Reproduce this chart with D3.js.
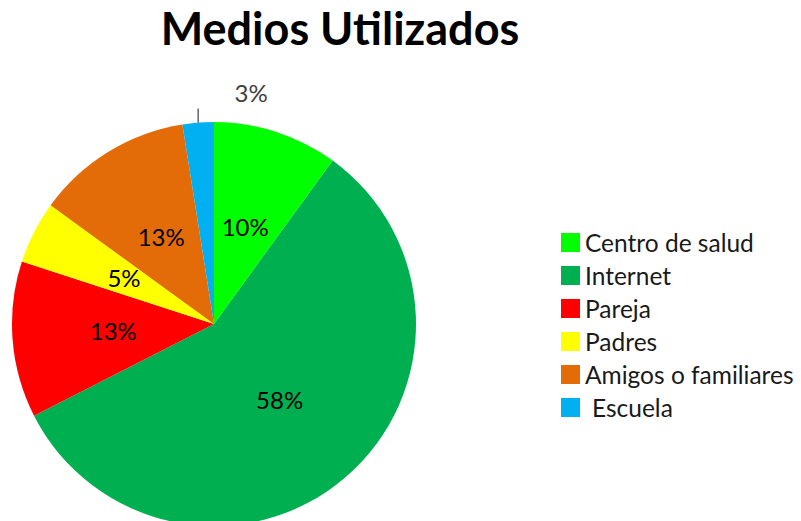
<!DOCTYPE html>
<html>
<head>
<meta charset="utf-8">
<script src="https://cdn.jsdelivr.net/npm/d3@7"></script>
<style>
  body { margin: 0; background: #fff; }
  text { font-family: Lato, 'Open Sans', sans-serif; }
</style>
</head>
<body>
<div id="chart"></div>
<script>
// Respuestas por medio (conteos)
const categories = ['Centro de salud', 'Internet', 'Pareja', 'Padres', 'Amigos o familiares', 'Escuela'];
const counts = [4, 23, 5, 2, 5, 1];
const colors = ['#00ff00', '#00b050', '#ff0000', '#ffff00', '#e36c09', '#00b0f0'];
const title = 'Medios Utilizados';

const width = 801;
const height = 521;
const cx = 214;
const cy = 324;
const radius = 202;

const data = categories.map((c, i) => ({ name: c, value: counts[i], color: colors[i] }));
const total = d3.sum(counts);

const svg = d3.select('#chart')
  .append('svg')
  .attr('width', width)
  .attr('height', height);

svg.append('rect')
  .attr('width', width)
  .attr('height', height)
  .attr('fill', '#fff');

// title
svg.append('text')
  .attr('x', 340)
  .attr('y', 45)
  .attr('text-anchor', 'middle')
  .attr('font-size', 45)
  .attr('font-weight', 'bold')
  .attr('fill', '#000')
  .text(title);

const pie = d3.pie()
  .sort(null)
  .value((d) => d.value);

const arc = d3.arc()
  .innerRadius(0)
  .outerRadius(radius);

const arcs = pie(data);

const g = svg.append('g')
  .attr('transform', `translate(${cx},${cy})`);

g.selectAll('path')
  .data(arcs)
  .enter()
  .append('path')
  .attr('d', arc)
  .attr('fill', (d) => d.data.color);

const pct = (d) => `${Math.round((100 * d.data.value) / total)}%`;

// labels inside (all but the small last slice)
g.selectAll('text.inner')
  .data(arcs.filter((d) => d.data.name !== 'Escuela'))
  .enter()
  .append('text')
  .attr('class', 'inner')
  .attr('transform', (d) => `translate(${arc.centroid(d)})`)
  .attr('text-anchor', 'middle')
  .attr('dy', '0.35em')
  .attr('font-size', 24)
  .attr('fill', '#000')
  .text(pct);

// Escuela label outside with a short leader line
const small = arcs[arcs.length - 1];
const mid = (small.startAngle + small.endAngle) / 2;
const ex = Math.sin(mid) * radius;
const ey = -Math.cos(mid) * radius;
g.append('line')
  .attr('x1', ex)
  .attr('y1', ey)
  .attr('x2', ex)
  .attr('y2', ey - 14)
  .attr('stroke', '#404040')
  .attr('stroke-width', 1.2);
g.append('text')
  .attr('x', ex + 53)
  .attr('y', ey - 21)
  .attr('text-anchor', 'middle')
  .attr('font-size', 24)
  .attr('fill', '#404040')
  .text(pct(small));

// legend
const legend = svg.append('g')
  .attr('transform', 'translate(561,233)');

const row = legend.selectAll('g')
  .data(data)
  .enter()
  .append('g')
  .attr('transform', (d, i) => `translate(0,${i * 33})`);

row.append('rect')
  .attr('width', 19)
  .attr('height', 19)
  .attr('fill', (d) => d.color);

row.append('text')
  .attr('x', (d) => (d.name === 'Escuela' ? 31 : 24))
  .attr('y', 10)
  .attr('dy', '0.35em')
  .attr('font-size', 24.5)
  .attr('fill', '#1a1a1a')
  .text((d) => d.name);
</script>
</body>
</html>
